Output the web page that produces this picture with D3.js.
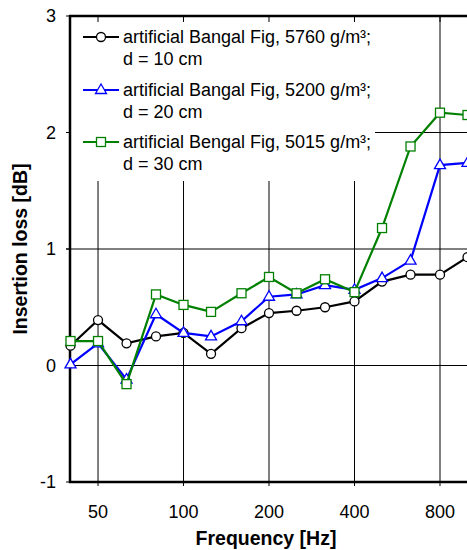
<!DOCTYPE html>
<html>
<head>
<meta charset="utf-8">
<script src="https://cdn.jsdelivr.net/npm/d3@7"></script>
<style>
  body { margin: 0; background: #fff; }
  text { font-family: "Liberation Sans", Arial, sans-serif; }
</style>
</head>
<body>
<svg id="chart" width="467" height="550"></svg>
<script>
// third-octave band centres
let freqs = [40, 50, 63, 80, 100, 125, 160, 200, 250, 315, 400, 500, 630, 800, 1000];

let fig10 = [0.17, 0.39, 0.19, 0.25, 0.28, 0.10, 0.32, 0.45, 0.47, 0.50, 0.55, 0.72, 0.78, 0.78, 0.93];
let fig20 = [0.01, 0.19, -0.12, 0.44, 0.28, 0.25, 0.38, 0.59, 0.61, 0.69, 0.65, 0.75, 0.90, 1.72, 1.74];
let fig30 = [0.21, 0.21, -0.16, 0.61, 0.52, 0.46, 0.62, 0.76, 0.62, 0.74, 0.63, 1.18, 1.88, 2.17, 2.15];

let xTicks = [50, 100, 200, 400, 800];
let yTicks = [-1, 0, 1, 2, 3];

let seriesNames = [
  ["artificial Bangal Fig, 5760 g/m³;", "d = 10 cm"],
  ["artificial Bangal Fig, 5200 g/m³;", "d = 20 cm"],
  ["artificial Bengal Fig, 5015 g/m³;", "d = 30 cm"]
];
let seriesColors = ["#000000", "#0000ff", "#008000"];
let seriesMarks = ["circle", "triangle", "square"];
let seriesValues = [fig10, fig20, fig30];

let plotLeft = 70, plotTop = 16, plotBottom = 482;

let x = d3.scaleLog().domain([40, 800]).range([70.5, 440]);
let y = d3.scaleLinear().domain([-1, 3]).range([plotBottom, plotTop]);

let svg = d3.select("#chart");

// legend box covers part of the grid
let legendRight = 375, legendBottom = 181;

// vertical grid lines (with small tick below the axis)
svg.selectAll("line.vgrid")
  .data(xTicks)
  .enter().append("line")
  .attr("x1", d => x(d)).attr("x2", d => x(d))
  .attr("y1", plotBottom + 4)
  .attr("y2", d => x(d) > legendRight ? plotTop : legendBottom)
  .attr("stroke", "#000").attr("stroke-width", 1);

// horizontal grid lines
svg.selectAll("line.hgrid")
  .data(yTicks.filter(d => d > -1 && d < 3))
  .enter().append("line")
  .attr("x1", d => y(d) < legendBottom ? legendRight : plotLeft - 4)
  .attr("x2", 467)
  .attr("y1", d => y(d)).attr("y2", d => y(d))
  .attr("stroke", "#000").attr("stroke-width", 1);

// left ticks
svg.selectAll("line.ytick")
  .data(yTicks)
  .enter().append("line")
  .attr("x1", plotLeft - 4).attr("x2", plotLeft)
  .attr("y1", d => y(d)).attr("y2", d => y(d))
  .attr("stroke", "#000").attr("stroke-width", 1);

// top ticks pointing inward
svg.selectAll("line.ttick")
  .data(xTicks)
  .enter().append("line")
  .attr("x1", d => x(d)).attr("x2", d => x(d))
  .attr("y1", plotTop).attr("y2", plotTop + 6)
  .attr("stroke", "#000").attr("stroke-width", 1);

// faint line at 1000 Hz
svg.append("line")
  .attr("x1", x(1000)).attr("x2", x(1000))
  .attr("y1", plotTop).attr("y2", plotBottom)
  .attr("stroke", "#ccc").attr("stroke-width", 1);

// frame
svg.append("path")
  .attr("d", `M467,${plotTop}H${plotLeft}V${plotBottom}H467`)
  .attr("fill", "none").attr("stroke", "#000").attr("stroke-width", 2.5);

// tick labels
svg.selectAll("text.xlab")
  .data(xTicks)
  .enter().append("text")
  .attr("x", d => x(d)).attr("y", 518)
  .attr("text-anchor", "middle")
  .attr("font-size", 18)
  .text(d => d);

svg.selectAll("text.ylab")
  .data(yTicks)
  .enter().append("text")
  .attr("x", 56).attr("y", d => y(d))
  .attr("dy", "0.35em")
  .attr("text-anchor", "end")
  .attr("font-size", 18)
  .text(d => d);

svg.append("text")
  .attr("x", 266).attr("y", 545)
  .attr("text-anchor", "middle")
  .attr("font-size", 19.5).attr("font-weight", "bold")
  .text("Frequency [Hz]");

svg.append("text")
  .attr("transform", `translate(27,${(plotTop + plotBottom) / 2}) rotate(-90)`)
  .attr("text-anchor", "middle")
  .attr("font-size", 19.5).attr("font-weight", "bold")
  .text("Insertion loss [dB]");

function drawMark(g, kind, color) {
  if (kind == "circle") {
    g.append("circle").attr("r", 4.5)
      .attr("fill", "#fff").attr("stroke", color).attr("stroke-width", 1.3);
  } else if (kind == "square") {
    g.append("rect").attr("x", -4.5).attr("y", -4.5).attr("width", 9).attr("height", 9)
      .attr("fill", "#fff").attr("stroke", color).attr("stroke-width", 1.3);
  } else {
    g.append("path").attr("d", "M0,-6L5.5,3.5L-5.5,3.5Z")
      .attr("fill", "#fff").attr("stroke", color).attr("stroke-width", 1.3);
  }
}

// series
let line = d3.line().x(d => x(d[0])).y(d => y(d[1]));

seriesValues.forEach((vals, i) => {
  let pts = freqs.map((f, j) => [f, vals[j]]);
  svg.append("path")
    .datum(pts)
    .attr("d", line)
    .attr("fill", "none")
    .attr("stroke", seriesColors[i])
    .attr("stroke-width", 2.2);
  svg.selectAll("g.m" + i)
    .data(pts)
    .enter().append("g")
    .attr("transform", d => `translate(${x(d[0])},${y(d[1])})`)
    .each(function() { drawMark(d3.select(this), seriesMarks[i], seriesColors[i]); });
});

// legend
let legendY = [37, 90, 142];
seriesNames.forEach((nm, i) => {
  let g = svg.append("g").attr("transform", `translate(0,${legendY[i]})`);
  g.append("line").attr("x1", 83).attr("x2", 119).attr("y1", 0).attr("y2", 0)
    .attr("stroke", seriesColors[i]).attr("stroke-width", 2.2);
  let m = g.append("g").attr("transform", "translate(101,0)");
  drawMark(m, seriesMarks[i], seriesColors[i]);
  g.append("text").attr("x", 123).attr("y", 0).attr("dy", "0.35em")
    .attr("font-size", 18).text(nm[0]);
  g.append("text").attr("x", 123).attr("y", 22).attr("dy", "0.35em")
    .attr("font-size", 18).text(nm[1]);
});
</script>
</body>
</html>
